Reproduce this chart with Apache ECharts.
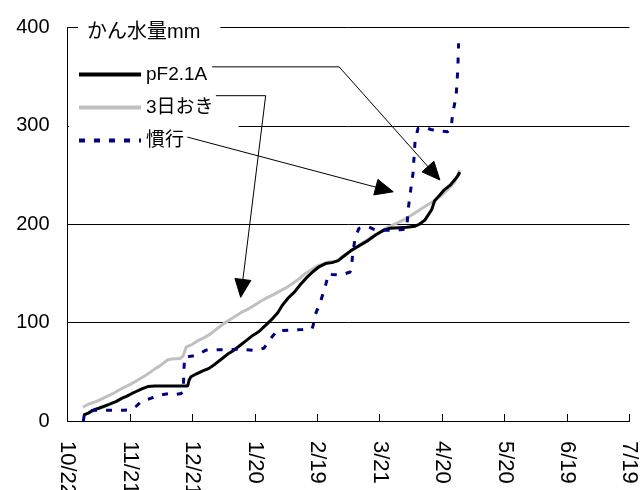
<!DOCTYPE html>
<html>
<head>
<meta charset="utf-8">
<script src="https://cdn.jsdelivr.net/npm/echarts@6/dist/echarts.min.js"></script>
<style>
  html, body { margin: 0; padding: 0; background: #fff; }
  #chart { width: 643px; height: 490px; }
</style>
</head>
<body>
<div id="chart"></div>
<script>
// Cumulative irrigation (mm) against days elapsed since 10/22
const xTickLabels = ['10/22', '11/21', '12/21', '1/20', '2/19', '3/21', '4/20', '5/20', '6/19', '7/19'];
const yTicks = [0, 100, 200, 300, 400];
const seriesNames = ['pF2.1A', '3日おき', '慣行'];

// pF2.1A
const pfDays = [7.6, 10, 12.3, 15, 17, 20, 23.5, 26, 28.3, 31, 33, 36, 38.6, 42, 48, 54, 57.7, 58.5, 59.3, 62, 65, 68,
  71, 74, 77, 80, 83, 86, 89, 92, 95, 98, 101, 103, 106, 109, 112, 115, 118, 121, 124, 127, 130, 133, 136, 140,
  144, 148, 152, 155, 159, 163, 167, 169, 171.6, 173.5, 175, 176.4, 179, 181, 184, 187.5, 188.5];
const pfValues = [6, 8, 11, 13, 14.5, 17, 20, 23, 25, 28, 30, 33, 35, 35.5, 35.5, 35.5, 35.5, 42, 45, 48, 51, 53.5,
  58, 63, 68, 72, 77, 82, 87, 91, 97, 103, 110, 117, 125, 131, 139, 146, 152, 157, 160, 161, 163, 168, 173, 178,
  183, 189, 194, 196, 196.5, 197, 198, 200, 204, 210, 215, 224, 230, 235, 240, 249, 253];

// 3日おき (every three days)
const everyThreeDays = [7.4, 10, 14, 18, 22, 26, 30, 34, 38, 42, 45, 48, 50, 54, 55.5, 57, 60, 63, 66, 69, 72, 75,
  78, 81, 84, 87, 90, 93, 96, 99, 102, 105, 108, 111, 114, 117, 120, 123, 126, 128, 130, 132, 135, 138, 141, 144,
  147, 150, 153, 156, 159, 162, 165, 168, 171, 174, 177, 180, 183, 186, 188.5];
const everyThreeValues = [14, 17, 20, 24, 28, 33, 37, 42, 47, 53, 57, 62, 63, 63.5, 66, 75, 78, 82, 85, 89, 94, 99,
  103, 107, 111, 114, 118, 122, 125.5, 128.5, 132, 135.5, 139.5, 144, 149.5, 153.5, 157.5, 160, 162, 161.5, 163,
  167, 171, 175, 180, 184, 188, 192, 196, 199, 202, 205, 209, 213, 217, 221, 225, 230, 236, 243, 255];

// 慣行 (conventional practice)
const conventionalDays = [7.6, 8.2, 10, 13, 20, 27, 30, 33, 35.5, 40, 42.6, 46, 49, 52, 54.6, 55.6, 56, 56.3, 60, 63,
  66.5, 72, 78, 83, 89, 94.4, 96, 97.7, 100.9, 104, 108, 113, 117.5, 118, 119, 121.5, 124, 125.4, 127, 130, 133,
  135.8, 136.5, 137, 138.2, 140, 142, 144.5, 147, 150, 154, 157, 160, 163, 163.6, 165.2, 166, 167, 168.4, 170, 173,
  175, 177.6, 180, 182.5, 184.3, 185, 186.7, 187.5, 187.9];
const conventionalValues = [0, 8, 10, 11, 11, 11, 11.5, 15, 20, 23, 25.5, 27, 28, 27, 28, 30, 55, 65, 66, 68,
  72, 72.5, 72.5, 73, 72, 74, 79, 84, 92.5, 92, 92.5, 93, 94, 97, 108, 121, 138, 150, 149, 148.5, 149.5,
  151.5, 157, 170, 186, 195.8, 197, 197.5, 195, 194, 194, 194, 194.5, 195, 214, 240, 252, 285, 297.5, 298, 297.5,
  296, 295.5, 294.5, 294, 297.5, 312, 330, 357, 384];

// Callout arrows from the legend to each curve: [start, elbow..., tip] in data coordinates
const calloutPaths = [
  [[69.5, 360], [130.5, 360], [178.9, 245]],
  [[71.3, 330.7], [95.2, 330.7], [83.2, 125.7]],
  [[57.6, 288.6], [156.5, 233]]
];

const zip = (xs, ys) => xs.map((x, i) => [x, ys[i]]);
const fontStack = "'Liberation Sans', 'Noto Sans CJK JP', sans-serif";

const chart = echarts.init(document.getElementById('chart'), null, { renderer: 'canvas' });

chart.setOption({
  animation: false,
  backgroundColor: '#fff',
  title: {
    text: 'かん水量mm',
    left: 78,
    top: 19,
    padding: [2, 20, 2, 9],
    backgroundColor: '#fff',
    textStyle: { fontFamily: fontStack, fontSize: 20, fontWeight: 'normal', color: '#000', lineHeight: 22 }
  },
  legend: {
    orient: 'vertical',
    left: 69,
    top: 59,
    padding: [6, 25, 8, 8],
    backgroundColor: '#fff',
    itemWidth: 62,
    itemHeight: 16,
    itemGap: 14,
    data: seriesNames,
    itemStyle: { opacity: 0 },
    lineStyle: { width: 4 },
    textStyle: { fontFamily: fontStack, fontSize: 19, color: '#000', lineHeight: 16 }
  },
  grid: { left: 67.5, right: 13.5, top: 27.5, bottom: 69, outerBoundsMode: 'none', containLabel: false },
  xAxis: {
    type: 'value',
    min: 0,
    max: 270,
    interval: 30,
    axisLine: { lineStyle: { color: '#000', width: 1 } },
    axisTick: { inside: true, length: 7, lineStyle: { color: '#000' } },
    splitLine: { show: false },
    axisLabel: {
      rotate: -90,
      margin: 20,
      fontFamily: fontStack,
      fontSize: 22,
      color: '#000',
      formatter: v => xTickLabels[Math.round(v / 30)]
    }
  },
  yAxis: {
    type: 'value',
    min: yTicks[0],
    max: yTicks[yTicks.length - 1],
    interval: 100,
    axisLine: { show: true, lineStyle: { color: '#000', width: 1 } },
    axisTick: { show: false },
    splitLine: { lineStyle: { color: '#000', width: 1 } },
    axisLabel: { margin: 18, padding: [5, 0, 0, 0], fontFamily: fontStack, fontSize: 20, color: '#000' }
  },
  series: [
    {
      name: seriesNames[0], type: 'line', data: zip(pfDays, pfValues),
      symbol: 'none', z: 3,
      lineStyle: { color: '#000', width: 3 }, itemStyle: { color: '#000' }
    },
    {
      name: seriesNames[1], type: 'line', data: zip(everyThreeDays, everyThreeValues),
      symbol: 'none', z: 2,
      lineStyle: { color: '#c0c0c0', width: 3 }, itemStyle: { color: '#c0c0c0' }
    },
    {
      name: seriesNames[2], type: 'line', data: zip(conventionalDays, conventionalValues),
      symbol: 'none', z: 4,
      lineStyle: { color: '#000080', width: 3, type: [6, 9] }, itemStyle: { color: '#000080' }
    }
  ]
});

// Callout lines with filled triangular arrowheads
function buildCallouts() {
  const elements = [];
  calloutPaths.forEach(path => {
    const pts = path.map(p => chart.convertToPixel({ gridIndex: 0 }, p));
    const tip = pts[pts.length - 1];
    const prev = pts[pts.length - 2];
    const dx = tip[0] - prev[0], dy = tip[1] - prev[1];
    const len = Math.hypot(dx, dy);
    const ux = dx / len, uy = dy / len;
    const headLen = 18, halfW = 8;
    const bx = tip[0] - ux * headLen, by = tip[1] - uy * headLen;
    const shaft = pts.slice(0, -1).concat([[bx + ux * 2, by + uy * 2]]);
    elements.push({
      type: 'polyline', z: 100,
      shape: { points: shaft },
      style: { stroke: '#000', lineWidth: 1, fill: null }
    });
    elements.push({
      type: 'polygon', z: 100,
      shape: { points: [tip, [bx - uy * halfW, by + ux * halfW], [bx + uy * halfW, by - ux * halfW]] },
      style: { fill: '#000', stroke: '#000', lineWidth: 1 }
    });
  });
  chart.setOption({ graphic: { elements } });
}
buildCallouts();
</script>
</body>
</html>
